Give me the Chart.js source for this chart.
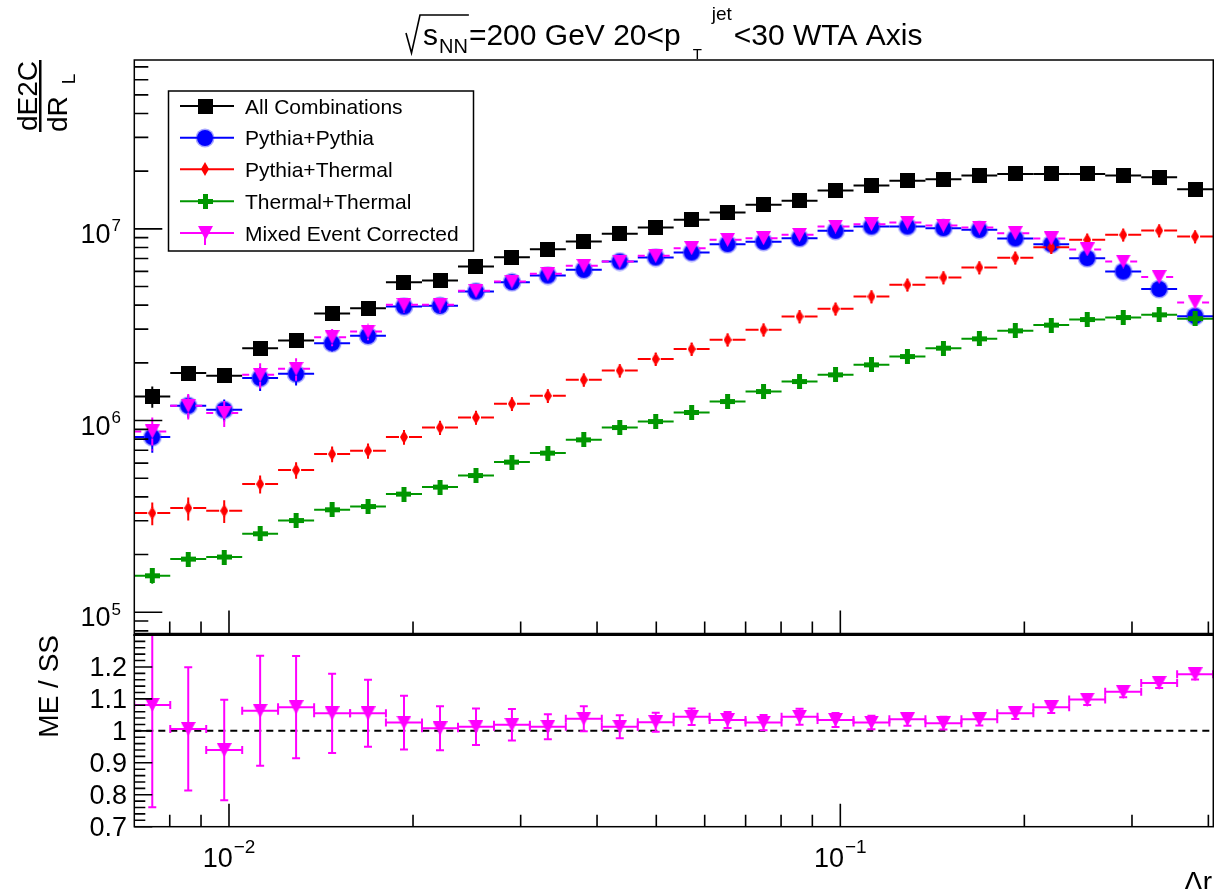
<!DOCTYPE html>
<html>
<head>
<meta charset="utf-8">
<title>dE2C/dRL WTA axis</title>
<script src="https://cdn.jsdelivr.net/npm/chart.js@4.4.1/dist/chart.umd.min.js"></script>
<style>
  html, body { margin: 0; padding: 0; background: #fff; }
  #wrap { position: relative; width: 1214px; height: 889px; overflow: hidden; }
  .pad { position: absolute; left: 0; }
</style>
</head>
<body>
<div id="wrap">
  <canvas id="topPad" class="pad" style="top:0" width="1214" height="634"></canvas>
  <canvas id="ratioPad" class="pad" style="top:634px" width="1214" height="255"></canvas>
</div>
<script>
const FONT = '"Liberation Sans", Arial, Helvetica, sans-serif';

// --- bins (log spaced in delta r) ---
const binEdges = [0.007, 0.008015, 0.009178, 0.01051, 0.01203, 0.01378, 0.01578, 0.01806,
  0.02069, 0.02369, 0.02713, 0.03106, 0.03556, 0.04072, 0.04663, 0.05338, 0.06112, 0.06998,
  0.08015, 0.09178, 0.1051, 0.1203, 0.1378, 0.1578, 0.1806, 0.2069, 0.2368, 0.2712, 0.3106,
  0.3556, 0.4071];

// --- series ---
const seriesNames = ["All Combinations", "Pythia+Pythia", "Pythia+Thermal", "Thermal+Thermal", "Mixed Event Corrected"];

const allComb = [1.335e6, 1.768e6, 1.712e6, 2.387e6, 2.615e6, 3.617e6, 3.858e6, 5.272e6, 5.375e6, 6.36e6,
  7.119e6, 7.838e6, 8.587e6, 9.417e6, 1.016e7, 1.114e7, 1.216e7, 1.334e7, 1.40e7, 1.584e7,
  1.682e7, 1.78e7, 1.816e7, 1.897e7, 1.935e7, 1.935e7, 1.935e7, 1.897e7, 1.856e7, 1.611e7];
const allCombErr = [1.7e5, 1.3e5, 1.2e5, 1.3e5, 1.2e5, 1.4e5, 1.3e5, 1.5e5, 1.5e5, 1.5e5,
  1.5e5, 1.6e5, 1.6e5, 1.7e5, 1.7e5, 1.8e5, 1.9e5, 2.0e5, 2.0e5, 2.1e5,
  2.1e5, 2.2e5, 2.2e5, 2.2e5, 2.3e5, 2.3e5, 2.3e5, 2.3e5, 2.3e5, 2.2e5];

const pythiaPythia = [8.20e5, 1.194e6, 1.138e6, 1.665e6, 1.753e6, 2.534e6, 2.767e6, 3.934e6, 3.967e6, 4.71e6,
  5.272e6, 5.708e6, 6.113e6, 6.753e6, 7.085e6, 7.523e6, 8.323e6, 8.555e6, 8.944e6, 9.763e6,
  1.028e7, 1.028e7, 1.008e7, 9.88e6, 8.92e6, 8.323e6, 7.035e6, 5.989e6, 4.853e6, 3.505e6];
const pythiaPythiaErr = [1.4e5, 1.6e5, 1.5e5, 2.4e5, 2.3e5, 2.5e5, 2.6e5, 3.3e5, 3.3e5, 3.5e5,
  3.6e5, 3.6e5, 3.6e5, 3.8e5, 3.8e5, 3.9e5, 4.1e5, 4.1e5, 4.2e5, 4.3e5,
  4.4e5, 4.4e5, 4.3e5, 4.2e5, 3.9e5, 3.7e5, 3.2e5, 2.8e5, 2.4e5, 1.9e5];

const pythiaThermal = [3.291e5, 3.494e5, 3.383e5, 4.662e5, 5.515e5, 6.683e5, 6.955e5, 8.20e5, 9.20e5, 1.037e6,
  1.223e6, 1.346e6, 1.631e6, 1.824e6, 2.092e6, 2.359e6, 2.637e6, 2.974e6, 3.488e6, 3.826e6,
  4.436e6, 5.105e6, 5.572e6, 6.284e6, 7.06e6, 8.009e6, 8.762e6, 9.305e6, 9.797e6, 9.117e6];
const pythiaThermalErr = [4.5e4, 4.8e4, 4.6e4, 5.0e4, 5.5e4, 6.3e4, 6.4e4, 7.2e4, 7.9e4, 8.7e4,
  1.0e5, 1.1e5, 1.3e5, 1.45e5, 1.65e5, 1.85e5, 2.05e5, 2.3e5, 2.7e5, 2.95e5,
  3.4e5, 3.9e5, 4.25e5, 4.8e5, 5.4e5, 6.1e5, 6.7e5, 7.1e5, 7.5e5, 7.0e5];

const thermalThermal = [1.55e5, 1.894e5, 1.941e5, 2.567e5, 3.011e5, 3.424e5, 3.562e5, 4.134e5, 4.497e5, 5.169e5,
  6.072e5, 6.764e5, 7.934e5, 9.20e5, 9.886e5, 1.102e6, 1.257e6, 1.417e6, 1.598e6, 1.732e6,
  1.953e6, 2.158e6, 2.387e6, 2.669e6, 2.938e6, 3.147e6, 3.365e6, 3.447e6, 3.561e6, 3.402e6];
const thermalThermalErr = [1.4e4, 1.2e4, 1.2e4, 1.4e4, 1.6e4, 1.8e4, 1.8e4, 2.1e4, 2.3e4, 2.6e4,
  3.0e4, 3.4e4, 4.0e4, 4.6e4, 4.9e4, 5.5e4, 6.2e4, 7.0e4, 7.9e4, 8.6e4,
  9.7e4, 1.07e5, 1.18e5, 1.32e5, 1.45e5, 1.55e5, 1.66e5, 1.7e5, 1.76e5, 1.68e5];

const mixedCorr = [8.77e5, 1.194e6, 1.094e6, 1.732e6, 1.862e6, 2.724e6, 2.913e6, 4.015e6, 4.015e6, 4.75e6,
  5.311e6, 5.825e6, 6.412e6, 6.753e6, 7.23e6, 7.932e6, 8.762e6, 8.944e6, 9.305e6, 1.028e7,
  1.058e7, 1.079e7, 1.04e7, 1.016e7, 9.497e6, 8.91e6, 7.81e6, 6.753e6, 5.607e6, 4.132e6];
const mixedCorrErr = [1.8e5, 1.8e5, 1.7e5, 2.6e5, 2.5e5, 2.8e5, 2.9e5, 3.5e5, 3.5e5, 3.7e5,
  3.8e5, 3.8e5, 3.9e5, 4.0e5, 4.1e5, 4.2e5, 4.4e5, 4.4e5, 4.5e5, 4.6e5,
  4.7e5, 4.7e5, 4.6e5, 4.5e5, 4.3e5, 4.1e5, 3.7e5, 3.3e5, 2.9e5, 2.3e5];

// ME / SS ratio
const ratioMeSs = [1.081, 1.006, 0.94, 1.063, 1.074, 1.055, 1.055, 1.026, 1.008, 1.013,
  1.019, 1.013, 1.038, 1.013, 1.027, 1.044, 1.034, 1.026, 1.044, 1.034,
  1.026, 1.036, 1.024, 1.036, 1.055, 1.074, 1.098, 1.122, 1.150, 1.177];
const ratioErr = [0.32, 0.193, 0.157, 0.172, 0.16, 0.124, 0.105, 0.084, 0.069, 0.057,
  0.049, 0.039, 0.039, 0.036, 0.03, 0.026, 0.025, 0.024, 0.025, 0.022,
  0.021, 0.02, 0.02, 0.019, 0.018, 0.018, 0.017, 0.017, 0.016, 0.016];

// --- axes ---
const xRange = [0.007, 0.4075];
const topYRange = [7.75e4, 7.6e7];
const ratioYRange = [0.7, 1.3];
const xDecades = [-2, -1];
const xMinorTicks = [0.008, 0.009, 0.02, 0.03, 0.04, 0.05, 0.06, 0.07, 0.08, 0.09, 0.2, 0.3, 0.4];
const topYDecades = [5, 6, 7];
const ratioTickValues = [0.7, 0.8, 0.9, 1.0, 1.1, 1.2];
const ratioTickLabels = ["0.7", "0.8", "0.9", "1", "1.1", "1.2"];

const binCenters = binEdges.slice(0, -1).map((lo, i) => Math.sqrt(lo * binEdges[i + 1]));

// markers as small canvases so chart and legend share them
function makeMarker(w, h, paint) {
  const c = document.createElement("canvas");
  c.width = w; c.height = h;
  paint(c.getContext("2d"), w, h);
  return c;
}
const COL = { black: "#000000", blue: "#0000ff", red: "#ff0000", green: "#009600", magenta: "#ff00ff" };
const markers = {
  square: makeMarker(15, 15, (g, w, h) => { g.fillStyle = COL.black; g.fillRect(0, 0, w, h); }),
  circle: makeMarker(20, 20, (g, w, h) => {
    // soft rim like the original raster
    g.fillStyle = "rgba(0,0,255,0.35)"; g.beginPath(); g.arc(w / 2, h / 2, 9.5, 0, 2 * Math.PI); g.fill();
    g.fillStyle = COL.blue; g.beginPath(); g.arc(w / 2, h / 2, 8, 0, 2 * Math.PI); g.fill();
  }),
  diamond: makeMarker(8, 14, (g, w, h) => {
    g.fillStyle = COL.red; g.beginPath();
    g.moveTo(w / 2, 0); g.lineTo(w, h / 2); g.lineTo(w / 2, h); g.lineTo(0, h / 2);
    g.closePath(); g.fill();
  }),
  cross: makeMarker(15, 15, (g, w, h) => {
    g.fillStyle = COL.green; g.fillRect(0, 5, w, 5); g.fillRect(5, 0, 5, h);
  }),
  triDown: makeMarker(15, 14, (g, w, h) => {
    g.fillStyle = COL.magenta; g.beginPath();
    g.moveTo(0, 0); g.lineTo(w, 0); g.lineTo(w / 2, h); g.closePath(); g.fill();
  })
};

function histDataset(label, values, errs, marker, color, dash, gap, order) {
  return {
    label, order,
    data: binCenters.map((x, i) => ({ x, y: values[i] })),
    yErr: errs, errColor: color, errDash: dash, errGap: gap,
    pointStyle: marker, pointRadius: 6, showLine: false
  };
}

// --- drawing helpers ---
function strokeTicks(ctx, list) {
  ctx.beginPath();
  list.forEach(([x0, y0, x1, y1]) => { ctx.moveTo(x0, y0); ctx.lineTo(x1, y1); });
  ctx.stroke();
}

function xTickSegments(xs, yEdge, dir, majorLen, minorLen) {
  const segs = [];
  xDecades.forEach(d => {
    const px = xs.getPixelForValue(Math.pow(10, d));
    segs.push([px, yEdge, px, yEdge + dir * majorLen]);
  });
  xMinorTicks.forEach(v => {
    const px = xs.getPixelForValue(v);
    segs.push([px, yEdge, px, yEdge + dir * minorLen]);
  });
  return segs;
}

// "10" with a raised exponent; anchor: "right" or "center"
function drawPower(ctx, exp, x, baseline, anchor, size, supSize, supRise) {
  ctx.font = `${size}px ${FONT}`;
  const wBase = ctx.measureText("10").width;
  ctx.font = `${supSize}px ${FONT}`;
  const wSup = ctx.measureText(exp).width;
  const total = wBase + 1 + wSup;
  const x0 = anchor === "right" ? x - total : x - total / 2;
  ctx.textAlign = "left";
  ctx.font = `${size}px ${FONT}`;
  ctx.fillText("10", x0, baseline);
  ctx.font = `${supSize}px ${FONT}`;
  ctx.fillText(exp, x0 + wBase + 1, baseline - supRise);
}

function drawTitle(ctx) {
  const F = 30;
  const base = 45;
  ctx.fillStyle = "#000";
  ctx.textAlign = "left";
  ctx.textBaseline = "alphabetic";
  let x = 423;
  ctx.font = `${F}px ${FONT}`;
  ctx.fillText("s", x, base);
  x += ctx.measureText("s").width + 1;
  ctx.font = `20px ${FONT}`;
  ctx.fillText("NN", x, base + 8);
  x += ctx.measureText("NN").width + 1;
  // square root sign
  ctx.strokeStyle = "#000";
  ctx.lineWidth = 1.6;
  ctx.beginPath();
  ctx.moveTo(406, 33); ctx.lineTo(411.5, 53); ctx.lineTo(420, 15); ctx.lineTo(x, 15);
  ctx.stroke();
  ctx.font = `${F}px ${FONT}`;
  ctx.fillText("=200 GeV 20<p", x, base);
  x += ctx.measureText("=200 GeV 20<p").width;
  ctx.font = `15px ${FONT}`;
  ctx.fillText("T", x + 12, 59);
  ctx.font = `19px ${FONT}`;
  ctx.fillText("jet", x + 31, 20);
  x += 31 + ctx.measureText("jet").width + 2;
  ctx.font = `${F}px ${FONT}`;
  ctx.fillText("<30 WTA Axis", x, base);
}

function drawLegend(ctx) {
  const box = { l: 168.5, t: 91, r: 473.5, b: 251 };
  ctx.fillStyle = "#fff";
  ctx.fillRect(box.l, box.t, box.r - box.l, box.b - box.t);
  ctx.strokeStyle = "#000";
  ctx.lineWidth = 1.5;
  ctx.setLineDash([]);
  ctx.strokeRect(box.l, box.t, box.r - box.l, box.b - box.t);
  const rows = [106, 137.7, 169.3, 201.3, 233];
  const entries = [
    [markers.square, COL.black], [markers.circle, COL.blue], [markers.diamond, COL.red],
    [markers.cross, COL.green], [markers.triDown, COL.magenta]
  ];
  entries.forEach(([mk, col], i) => {
    const y = rows[i];
    ctx.strokeStyle = col;
    ctx.lineWidth = 2;
    ctx.beginPath();
    ctx.moveTo(180, y); ctx.lineTo(234, y);
    if (i === 4) { ctx.moveTo(205, y); ctx.lineTo(205, y + 12); }
    ctx.stroke();
    ctx.drawImage(mk, Math.round(205 - mk.width / 2), Math.round(y - mk.height / 2));
    ctx.fillStyle = "#000";
    ctx.font = `21px ${FONT}`;
    ctx.textAlign = "left";
    ctx.fillText(seriesNames[i], 245, y + 7.5);
  });
}

// --- top pad ---
const topPadDecor = {
  id: "topPadDecor",
  beforeDatasetDraw(chart, args) {
    const ds = chart.data.datasets[args.index];
    const { ctx, chartArea: a, scales: { x, y } } = chart;
    ctx.save();
    ctx.beginPath();
    ctx.rect(a.left, a.top, a.right - a.left, a.bottom - a.top);
    ctx.clip();
    ctx.strokeStyle = ds.errColor;
    ctx.lineWidth = 2;
    ctx.setLineDash(ds.errDash);
    const g = ds.errGap;
    ds.data.forEach((p, i) => {
      const xc = x.getPixelForValue(p.x), yc = y.getPixelForValue(p.y);
      const x0 = x.getPixelForValue(binEdges[i]), x1 = x.getPixelForValue(binEdges[i + 1]);
      const yHi = y.getPixelForValue(p.y + ds.yErr[i]);
      const yLo = y.getPixelForValue(p.y - ds.yErr[i]);
      ctx.beginPath();
      ctx.moveTo(x0, yc); ctx.lineTo(xc - g, yc);
      ctx.moveTo(xc + g, yc); ctx.lineTo(x1, yc);
      if (yc - yHi > g) { ctx.moveTo(xc, yc - g); ctx.lineTo(xc, yHi); }
      if (yLo - yc > g) { ctx.moveTo(xc, yc + g); ctx.lineTo(xc, yLo); }
      ctx.stroke();
    });
    ctx.restore();
  },
  afterDraw(chart) {
    const { ctx, chartArea: a, scales: { x, y } } = chart;
    ctx.save();
    ctx.strokeStyle = "#000";
    ctx.lineWidth = 1.5;
    ctx.strokeRect(a.left, a.top, a.right - a.left, a.bottom - a.top);

    // ticks point into the frame
    ctx.lineWidth = 1.6;
    strokeTicks(ctx, xTickSegments(x, a.bottom, -1, 23, 12));
    const ySegs = [];
    for (let d = 4; d <= 7; d++) {
      for (let m = 1; m <= 9; m++) {
        const v = m * Math.pow(10, d);
        if (v < topYRange[0] || v > topYRange[1]) continue;
        const py = y.getPixelForValue(v);
        ySegs.push([a.left, py, a.left + (m === 1 ? 28 : 14), py]);
      }
    }
    strokeTicks(ctx, ySegs);

    ctx.fillStyle = "#000";
    ctx.textBaseline = "alphabetic";
    topYDecades.forEach(d => {
      const py = y.getPixelForValue(Math.pow(10, d));
      drawPower(ctx, String(d), 121, py + 14, "right", 27, 17, 11.5);
    });

    // y title: dE2C / dR_L, rotated
    ctx.save();
    ctx.font = `28px ${FONT}`;
    ctx.textAlign = "left";
    ctx.translate(37, 132);
    ctx.rotate(-Math.PI / 2);
    ctx.fillText("dE2C", 1, 0);
    ctx.fillText("dR", 0, 30);
    const wdR = ctx.measureText("dR").width;
    ctx.font = `19px ${FONT}`;
    ctx.fillText("L", wdR + 12, 38);
    ctx.restore();
    ctx.fillRect(39, 60, 2.5, 72);

    drawTitle(ctx);
    drawLegend(ctx);
    ctx.restore();
  }
};

new Chart(document.getElementById("topPad"), {
  type: "scatter",
  data: {
    datasets: [
      histDataset(seriesNames[0], allComb, allCombErr, markers.square, COL.black, [], 7, 5),
      histDataset(seriesNames[1], pythiaPythia, pythiaPythiaErr, markers.circle, COL.blue, [], 8, 4),
      histDataset(seriesNames[2], pythiaThermal, pythiaThermalErr, markers.diamond, COL.red, [], 5, 3),
      histDataset(seriesNames[3], thermalThermal, thermalThermalErr, markers.cross, COL.green, [], 7, 2),
      histDataset(seriesNames[4], mixedCorr, mixedCorrErr, markers.triDown, COL.magenta, [7, 4], 7, 1)
    ]
  },
  options: {
    responsive: false,
    animation: false,
    events: [],
    layout: { autoPadding: false, padding: { left: 134.3, right: 0.7, top: 60, bottom: 0.5 } },
    scales: {
      x: { type: "logarithmic", min: xRange[0], max: xRange[1], display: false },
      y: { type: "logarithmic", min: topYRange[0], max: topYRange[1], display: false }
    },
    plugins: { legend: { display: false }, tooltip: { enabled: false } }
  },
  plugins: [topPadDecor]
});

// --- ratio pad ---
const ratioPadDecor = {
  id: "ratioPadDecor",
  beforeDatasetsDraw(chart) {
    const { ctx, chartArea: a, scales: { x, y } } = chart;
    ctx.save();
    // reference line at 1
    ctx.strokeStyle = "#000";
    ctx.lineWidth = 2;
    ctx.setLineDash([7, 5]);
    const py1 = y.getPixelForValue(1);
    ctx.beginPath(); ctx.moveTo(a.left, py1); ctx.lineTo(a.right, py1); ctx.stroke();
    ctx.setLineDash([]);

    // error bars with end caps
    ctx.beginPath();
    ctx.rect(a.left, a.top, a.right - a.left, a.bottom - a.top);
    ctx.clip();
    ctx.strokeStyle = COL.magenta;
    ctx.lineWidth = 2;
    const cap = 4;
    const ds = chart.data.datasets[0];
    ds.data.forEach((p, i) => {
      const xc = x.getPixelForValue(p.x), yc = y.getPixelForValue(p.y);
      const x0 = x.getPixelForValue(binEdges[i]), x1 = x.getPixelForValue(binEdges[i + 1]);
      const yHi = y.getPixelForValue(p.y + ratioErr[i]);
      const yLo = y.getPixelForValue(p.y - ratioErr[i]);
      ctx.beginPath();
      ctx.moveTo(x0, yc); ctx.lineTo(x1, yc);
      ctx.moveTo(x0, yc - cap); ctx.lineTo(x0, yc + cap);
      ctx.moveTo(x1, yc - cap); ctx.lineTo(x1, yc + cap);
      ctx.moveTo(xc, yHi); ctx.lineTo(xc, yLo);
      ctx.moveTo(xc - cap, yHi); ctx.lineTo(xc + cap, yHi);
      ctx.moveTo(xc - cap, yLo); ctx.lineTo(xc + cap, yLo);
      ctx.stroke();
    });
    ctx.restore();
  },
  afterDraw(chart) {
    const { ctx, chartArea: a, scales: { x, y } } = chart;
    ctx.save();
    ctx.strokeStyle = "#000";
    ctx.lineWidth = 1.5;
    ctx.strokeRect(a.left, a.top, a.right - a.left, a.bottom - a.top);
    ctx.lineWidth = 3;
    ctx.beginPath(); ctx.moveTo(a.left - 1, 0.5); ctx.lineTo(a.right + 1, 0.5); ctx.stroke();

    ctx.lineWidth = 1.6;
    strokeTicks(ctx, xTickSegments(x, a.bottom, -1, 23, 12));
    const ySegs = [];
    for (let k = 0; k <= 30; k++) {
      const v = ratioYRange[0] + k * 0.02;
      const py = y.getPixelForValue(v);
      ySegs.push([a.left, py, a.left + (k % 5 === 0 ? 18 : 11), py]);
    }
    strokeTicks(ctx, ySegs);

    ctx.fillStyle = "#000";
    ctx.textBaseline = "alphabetic";
    ctx.font = `27px ${FONT}`;
    ctx.textAlign = "right";
    ratioTickValues.forEach((v, i) => {
      ctx.fillText(ratioTickLabels[i], 127, y.getPixelForValue(v) + 9.5);
    });

    xDecades.forEach(d => {
      const px = x.getPixelForValue(Math.pow(10, d));
      drawPower(ctx, "\u2212" + Math.abs(d), px, 232.7, "center", 27, 19, 14);
    });

    ctx.font = `28px ${FONT}`;
    ctx.textAlign = "right";
    ctx.fillText("\u0394r", 1212, 257);

    ctx.save();
    ctx.translate(58, 1);
    ctx.rotate(-Math.PI / 2);
    ctx.textAlign = "right";
    ctx.fillText("ME / SS", 0, 0);
    ctx.restore();
    ctx.restore();
  }
};

new Chart(document.getElementById("ratioPad"), {
  type: "scatter",
  data: {
    datasets: [{
      label: "ME / SS",
      data: binCenters.map((x, i) => ({ x, y: ratioMeSs[i] })),
      pointStyle: markers.triDown,
      pointRadius: 6,
      showLine: false
    }]
  },
  options: {
    responsive: false,
    animation: false,
    events: [],
    layout: { autoPadding: false, padding: { left: 134.3, right: 0.7, top: 1, bottom: 62.3 } },
    scales: {
      x: { type: "logarithmic", min: xRange[0], max: xRange[1], display: false },
      y: { type: "linear", min: ratioYRange[0], max: ratioYRange[1], display: false }
    },
    plugins: { legend: { display: false }, tooltip: { enabled: false } }
  },
  plugins: [ratioPadDecor]
});
</script>
</body>
</html>
